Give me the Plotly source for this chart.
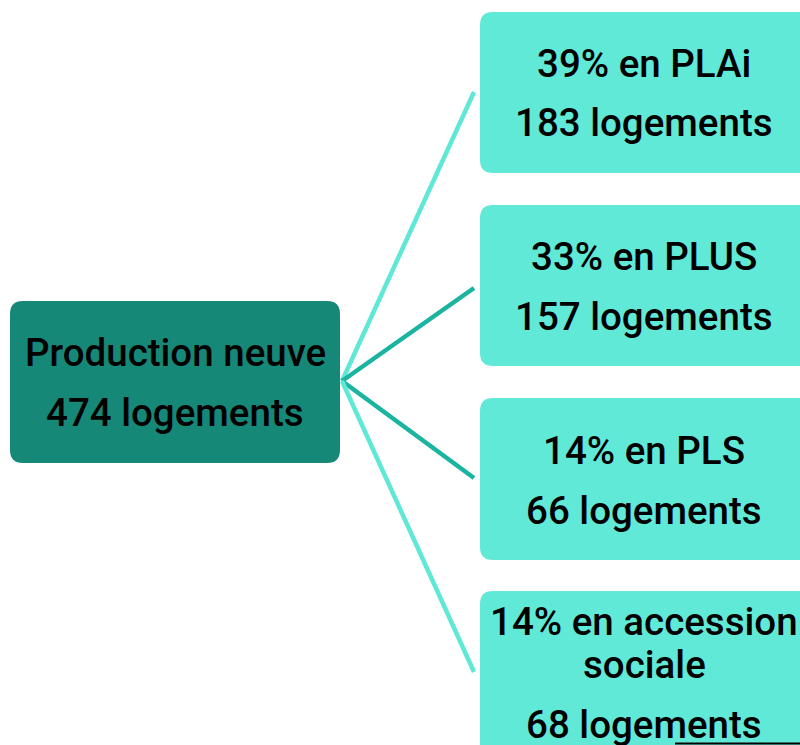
import plotly.graph_objects as go

# ---- data ----
root_lines = ["Production neuve", "474 logements"]
child_title_lines = [["39% en PLAi"], ["33% en PLUS"], ["14% en PLS"], ["14% en accession", "sociale"]]
child_counts = ["183 logements", "157 logements", "66 logements", "68 logements"]

# ---- layout constants (pixels, y downwards) ----
W, H = 800, 745
ROOT = (10, 301, 340, 463)
CHILDREN = [(480, 12, 812, 173), (480, 205, 812, 366), (480, 398, 812, 560), (480, 591, 812, 760)]
APEX = (342, 381)
LINE_END_X = 474
LINE_END_Y = [92, 288, 478, 672]
LINE_COLORS = ["#5FE8D6", "#1AB4A0", "#1AB4A0", "#5FE8D6"]
ROOT_FILL = "#168878"
CHILD_FILL = "#61E9D7"
FONT = "Roboto"
FS = 38.5

def rrect(x0, y0, x1, y1, r=13):
    return (f"M {x0+r},{y0} L {x1-r},{y0} Q {x1},{y0} {x1},{y0+r} "
            f"L {x1},{y1-r} Q {x1},{y1} {x1-r},{y1} L {x0+r},{y1} "
            f"Q {x0},{y1} {x0},{y1-r} L {x0},{y0+r} Q {x0},{y0} {x0+r},{y0} Z")

fig = go.Figure()
shapes = []
for ey, col in zip(LINE_END_Y, LINE_COLORS):
    shapes.append(dict(type="line", x0=APEX[0], y0=APEX[1], x1=LINE_END_X, y1=ey,
                       xref="x", yref="y", line=dict(color=col, width=4.5), layer="below"))
shapes.append(dict(type="path", path=rrect(*ROOT), fillcolor=ROOT_FILL, line=dict(width=0),
                   xref="x", yref="y"))
for c in CHILDREN:
    shapes.append(dict(type="path", path=rrect(*c), fillcolor=CHILD_FILL, line=dict(width=0),
                       xref="x", yref="y"))
shapes.append(dict(type="line", x0=675, y0=743.5, x1=800, y1=743.5, xref="x", yref="y",
                   line=dict(color="#000000", width=2)))

annotations = []
def add_text(txt, x, y):
    annotations.append(dict(text=txt, x=x, y=y, xref="x", yref="y", showarrow=False,
                            xanchor="center", yanchor="middle",
                            font=dict(family=FONT, size=FS, color="#000000", weight=500)))

add_text(root_lines[0], 175, 352)
add_text(root_lines[1], 175, 412)

title_y = [[63], [256], [450], [621, 664]]
count_y = [122, 316, 510, 724]
for lines, ys, cnt, cy in zip(child_title_lines, title_y, child_counts, count_y):
    for t, yy in zip(lines, ys):
        add_text(t, 644, yy)
    add_text(cnt, 644, cy)

fig.update_layout(
    width=W, height=H, margin=dict(l=0, r=0, t=0, b=0),
    paper_bgcolor="white", plot_bgcolor="white",
    xaxis=dict(range=[0, W], visible=False, fixedrange=True),
    yaxis=dict(range=[H, 0], visible=False, fixedrange=True),
    shapes=shapes, annotations=annotations, showlegend=False,
)
fig.write_html(
    "out.html",
    config={"displayModeBar": False},
    post_script="document.body.style.margin='0';document.body.style.overflow='hidden';",
)
